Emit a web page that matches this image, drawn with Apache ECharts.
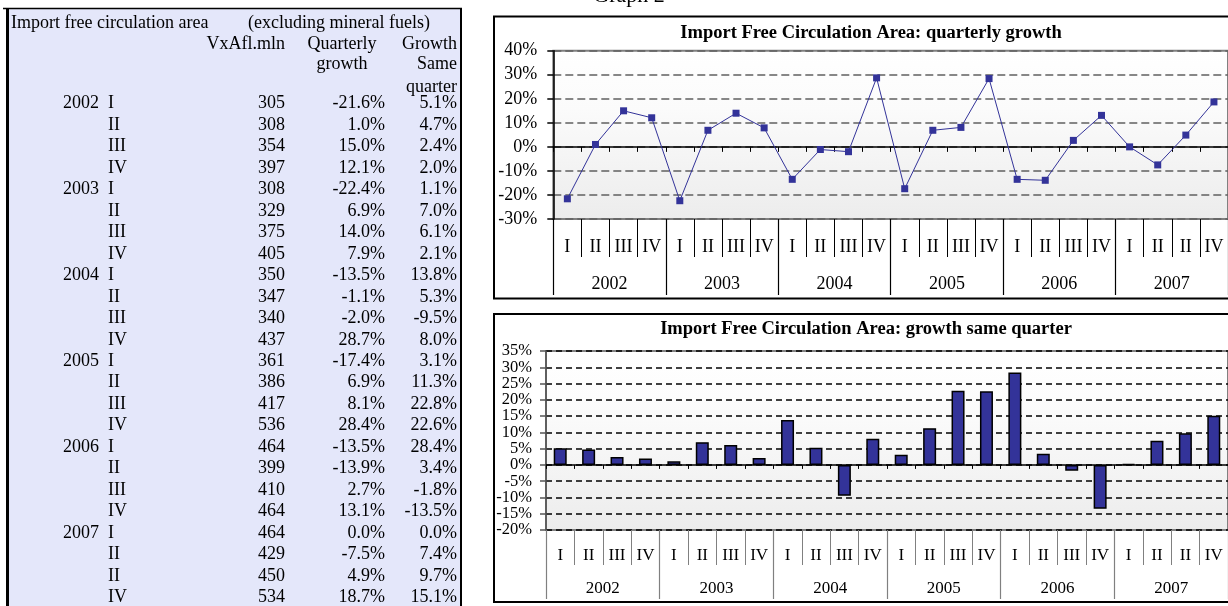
<!DOCTYPE html>
<html><head><meta charset="utf-8">
<script src="https://cdn.jsdelivr.net/npm/echarts@6/dist/echarts.min.js"></script>
<style>html,body{margin:0;padding:0;background:#fff;overflow:hidden}#c{width:1228px;height:606px}</style>
</head><body><div id="c"></div>
<script>
// ---- data ----
const years = ['2002', '2003', '2004', '2005', '2006', '2007'];
const quarters = ['I','II','III','IV','I','II','III','IV','I','II','III','IV','I','II','III','IV','I','II','III','IV','I','II','II','IV'];
const valueMln = [305, 308, 354, 397, 308, 329, 375, 405, 350, 347, 340, 437, 361, 386, 417, 536, 464, 399, 410, 464, 464, 429, 450, 534];
const quarterlyGrowth = [-21.6, 1.0, 15.0, 12.1, -22.4, 6.9, 14.0, 7.9, -13.5, -1.1, -2.0, 28.7, -17.4, 6.9, 8.1, 28.4, -13.5, -13.9, 2.7, 13.1, 0.0, -7.5, 4.9, 18.7];
const growthSameQuarter = [5.1, 4.7, 2.4, 2.0, 1.1, 7.0, 6.1, 2.1, 13.8, 5.3, -9.5, 8.0, 3.1, 11.3, 22.8, 22.6, 28.4, 3.4, -1.8, -13.5, 0.0, 7.4, 9.7, 15.1];
const tableTitle = ['Import free circulation area', '(excluding mineral fuels)'];
const colHeaders = [['VxAfl.mln'], ['Quarterly', 'growth'], ['Growth', 'Same', 'quarter']];
const chartTitles = ['Import Free Circulation Area: quarterly growth', 'Import Free Circulation Area: growth same quarter'];
const graphLabel = 'Graph 2';

// ---- styling ----
const FONT = '"Liberation Serif", "Times New Roman", serif';
const NAVY = '#333399';
const TABLE_BG = '#E4E7FA';

function txt(x, y, s, size, align, weight) {
  return { type: 'text', x: x, y: y, z: 10,
    style: { text: s, font: (weight || 'normal') + ' ' + size + 'px ' + FONT, fill: '#000',
      textAlign: align || 'left', textVerticalAlign: 'middle', align: align || 'left', verticalAlign: 'middle' } };
}
function line(x1, y1, x2, y2, w, c) {
  return { type: 'line', z: 10, shape: { x1: x1, y1: y1, x2: x2, y2: y2 }, style: { stroke: c || '#000', lineWidth: w } };
}

const graphic = [];
// table panel
graphic.push({ type: 'rect', z: 1, shape: { x: 7, y: 8, width: 455, height: 600 }, style: { fill: TABLE_BG } });
graphic.push(line(3, 8.5, 462, 8.5, 1.5));
graphic.push(line(7.5, 8, 7.5, 606, 3));
graphic.push(line(461, 8, 461, 606, 2));
const TS = 18;
graphic.push(txt(11, 23.5, tableTitle[0], TS));
graphic.push(txt(248, 23.5, tableTitle[1], TS));
const headY = [44, 64.5, 87];
graphic.push(txt(285, headY[0], colHeaders[0][0], TS, 'right'));
colHeaders[1].forEach((h, i) => graphic.push(txt(342, headY[i], h, TS, 'center')));
colHeaders[2].forEach((h, i) => graphic.push(txt(457, headY[i], h, TS, 'right')));
quarters.forEach((q, i) => {
  const y = 103.5 + i * 21.48;
  if (i % 4 === 0) graphic.push(txt(99, y, years[i / 4], TS, 'right'));
  graphic.push(txt(108, y, q, TS, 'left'));
  graphic.push(txt(285, y, String(valueMln[i]), TS, 'right'));
  graphic.push(txt(385, y, quarterlyGrowth[i].toFixed(1) + '%', TS, 'right'));
  graphic.push(txt(457, y, growthSameQuarter[i].toFixed(1) + '%', TS, 'right'));
});
// chart boxes
graphic.push({ type: 'rect', z: 10, shape: { x: 494, y: 16.5, width: 800, height: 282 }, style: { fill: 'transparent', stroke: '#000', lineWidth: 2 } });
graphic.push({ type: 'rect', z: 10, shape: { x: 494, y: 314, width: 800, height: 288 }, style: { fill: 'transparent', stroke: '#000', lineWidth: 2 } });
graphic.push(txt(629, -4, graphLabel, 22, 'center'));
graphic.push(txt(871, 33, chartTitles[0], 18.5, 'center', 'bold'));
graphic.push(txt(866, 329, chartTitles[1], 18.5, 'center', 'bold'));

const bg = { type: 'linear', x: 0, y: 0, x2: 0, y2: 1, colorStops: [{ offset: 0, color: '#ffffff' }, { offset: 0.35, color: '#fbfbfb' }, { offset: 1, color: '#ececec' }] };

// labelFilter: which tick values this axis prints (null = all)
function yAx(gi, min, max, step, size, margin, dash, dashColor, axisColor, labelFilter, bare) {
  return { gridIndex: gi, type: 'value', min: min, max: max, interval: step, position: 'left',
    axisLine: { show: !bare, onZero: false, lineStyle: { color: axisColor, width: 1.5 } },
    axisTick: { show: !bare, length: 6, lineStyle: { color: axisColor, width: 1.5 } },
    axisLabel: { formatter: v => (!labelFilter || labelFilter(v)) ? v + '%' : '', fontSize: size, fontFamily: FONT, color: '#000', margin: margin,
      showMinLabel: true, showMaxLabel: true, hideOverlap: false },
    splitLine: { show: !bare, lineStyle: { type: dash, color: dashColor, width: 1.5 } } };
}
function xAxes(gi, tickLen0, qTick, qMargin, yTick, yMargin, size, sepColor) {
  return [
    { gridIndex: gi, type: 'category', data: quarters, position: 'bottom',
      axisLine: { onZero: true, onZeroAxisIndex: gi === 0 ? 0 : 1, lineStyle: { color: '#000', width: 1.5 } },
      axisTick: { show: true, interval: 0, length: tickLen0, lineStyle: { color: '#000', width: 1 } },
      axisLabel: { show: false }, splitLine: { show: false } },
    { gridIndex: gi, type: 'category', data: quarters, position: 'bottom',
      axisLine: { show: false, onZero: false },
      axisTick: { show: true, interval: 0, length: qTick, lineStyle: { color: sepColor, width: 1 } },
      axisLabel: { interval: 0, fontSize: size, fontFamily: FONT, color: '#000', margin: qMargin } },
    { gridIndex: gi, type: 'category', data: years, position: 'bottom',
      axisLine: { show: false, onZero: false },
      axisTick: { show: true, interval: 0, length: yTick, lineStyle: { color: sepColor, width: 1.2 } },
      axisLabel: { interval: 0, fontSize: size, fontFamily: FONT, color: '#000', margin: yMargin } }
  ];
}

const tensOf2 = v => Math.round(v) % 10 === 0;
const fivesOf2 = v => Math.round(v) % 10 !== 0;

const option = {
  animation: false,
  backgroundColor: '#ffffff',
  graphic: graphic,
  grid: [
    { left: 553.3, top: 50.7, width: 684, height: 168.3, show: true, backgroundColor: bg, borderColor: '#808080', borderWidth: 2 },
    { left: 546, top: 351, width: 698, height: 179, show: true, backgroundColor: bg, borderColor: '#808080', borderWidth: 2 }
  ],
  xAxis: xAxes(0, 5, 38, 19, 76, 56, 18, '#000').concat(xAxes(1, 4, 35, 17, 69, 50.5, 17, '#808080')),
  yAxis: [
    yAx(0, -30, 40, 10, 18, 16, [8, 4], '#606060', '#000', null, false),
    yAx(1, -20, 35, 5, 16.5, 14, [6, 4], '#000000', '#555', tensOf2, false),
    yAx(1, -20, 35, 5, 16.5, 14, [6, 4], '#000000', '#555', fivesOf2, true)
  ],
  series: [
    { type: 'line', xAxisIndex: 0, yAxisIndex: 0, data: quarterlyGrowth, symbol: 'rect', symbolSize: 7,
      itemStyle: { color: NAVY }, lineStyle: { color: NAVY, width: 1 }, z: 5 },
    { type: 'bar', xAxisIndex: 3, yAxisIndex: 1, data: growthSameQuarter, barWidth: 13, barMinHeight: 1,
      itemStyle: { color: NAVY, borderColor: '#000', borderWidth: 1.5 }, z: 5 }
  ]
};
const chart = echarts.init(document.getElementById('c'), null, { renderer: 'canvas' });
chart.setOption(option);
</script></body></html>
